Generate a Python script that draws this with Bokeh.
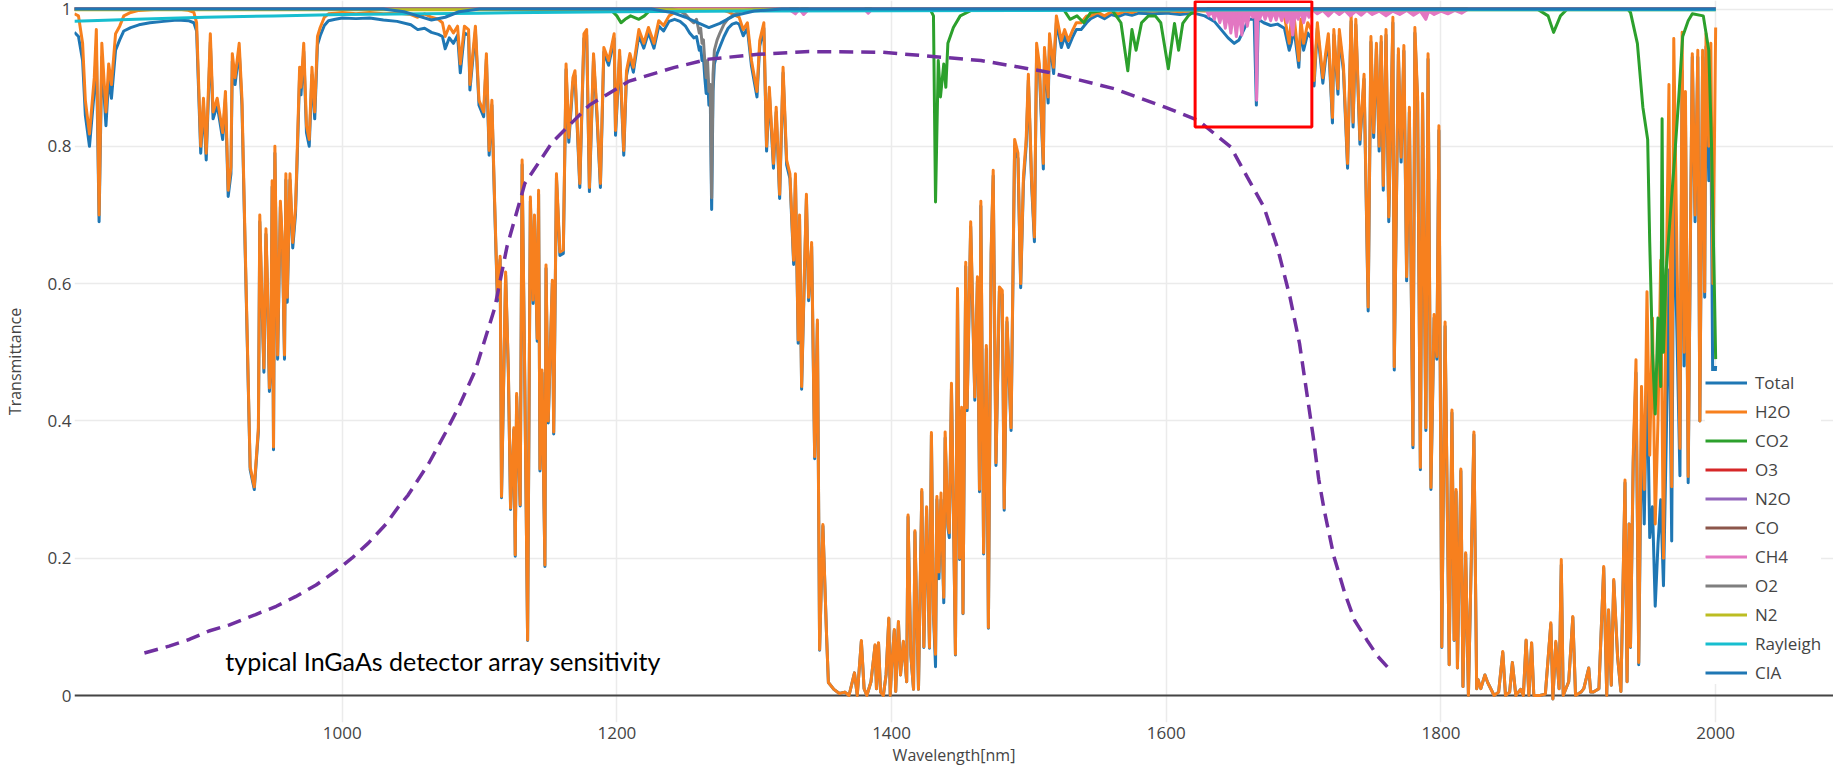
from bokeh.plotting import figure
from bokeh.models import Legend, LegendItem, FixedTicker, Span
from bokeh.core.properties import value
from bokeh.embed import file_html
from bokeh.resources import INLINE

# ---------------- data ----------------
h2o_wl = [
    805, 808, 811, 813, 816, 819.5, 821, 823, 825, 828, 830, 832, 835, 838, 841, 846, 852, 860, 870, 880, 888, 892,
    894, 897, 899, 901, 904, 906, 909, 913, 915, 917, 919, 920, 922, 925, 927, 929.5, 933, 936, 939, 940, 941, 943,
    944.5, 945.5, 947, 948, 949, 950, 951, 953, 955, 956.5, 958, 959, 960, 962, 964, 966, 967, 969, 970, 972, 974,
    976, 978, 980, 982, 984, 987, 990,
    995, 1000, 1010, 1020, 1030, 1040, 1050, 1055, 1060, 1065, 1070, 1073, 1075, 1078, 1081, 1084, 1086, 1089,
    1092, 1093, 1097, 1099.6, 1103, 1105, 1107, 1109, 1111, 1113, 1115, 1116, 1119, 1121, 1122.6, 1125, 1126, 1127,
    1129.6, 1131, 1133, 1135, 1137, 1139, 1140, 1142, 1143, 1144, 1145.5, 1147.6, 1148.4, 1150, 1153, 1154, 1156,
    1158.5, 1161, 1163, 1165, 1168, 1169.5, 1173, 1176, 1178, 1180, 1183, 1185.5, 1188, 1190.5, 1194, 1198, 1199,
    1202, 1205, 1207, 1209.5, 1212, 1216, 1219.6, 1223, 1227, 1230.5, 1234, 1238,
    1242, 1246, 1250, 1253, 1256, 1258, 1260, 1261, 1262, 1263, 1264, 1265, 1266, 1267, 1268, 1269, 1270, 1271,
    1273, 1275, 1278, 1281, 1284, 1287,
    1289, 1292, 1295, 1298, 1302, 1304, 1307, 1309, 1311, 1314, 1316, 1318.5, 1321, 1323.6, 1326, 1328.7, 1330,
    1332, 1333, 1334.5, 1336.5, 1338, 1339.6, 1341.8, 1344, 1346, 1347.6, 1350, 1352.7, 1354, 1358, 1362, 1366,
    1369, 1373, 1375, 1378, 1380, 1382, 1385, 1388, 1389, 1390.5, 1392, 1394, 1396, 1398, 1399, 1400, 1402, 1403,
    1405, 1406.5, 1408.6, 1411, 1412, 1414, 1416, 1417, 1419.6,
    1422, 1423.5, 1425.5, 1427.6, 1429, 1430.5, 1432, 1433, 1434.5, 1436, 1438, 1439, 1441, 1442, 1443.6, 1445,
    1446.5, 1448, 1449.5, 1451, 1452, 1454, 1455, 1457.6, 1460.6, 1462.5, 1464, 1465, 1467, 1469, 1470.5, 1471.5,
    1472.5, 1474, 1476, 1478.5, 1480.6, 1482, 1484, 1487, 1489.6, 1492, 1494, 1496, 1498, 1499.6, 1502, 1504,
    1505.6, 1507.6, 1510.5, 1511.3, 1514, 1515, 1518, 1520, 1523.6, 1526, 1528.7, 1532, 1534.5, 1538, 1542,
    1545, 1550, 1555, 1560, 1565, 1570, 1575, 1580, 1590, 1600, 1610, 1620, 1628, 1635, 1640, 1645, 1649.5, 1653,
    1657, 1660, 1664, 1665.6, 1667, 1671, 1676, 1681, 1686, 1689.5, 1691, 1693, 1696.5, 1698, 1700, 1703, 1705.5,
    1707.6, 1710, 1714, 1716, 1718, 1721, 1722, 1725, 1726, 1729, 1732, 1734.6, 1736, 1738, 1741, 1744, 1747, 1749,
    1751, 1753, 1755, 1756.5, 1758, 1760, 1762, 1765, 1766, 1769, 1771, 1773, 1775, 1777, 1779.6, 1781, 1783, 1785,
    1786.6, 1789, 1790.6, 1792.7, 1795, 1797, 1798.5,
    1800.6, 1803, 1806, 1808, 1809.6, 1811, 1812, 1814.5, 1816, 1818, 1820, 1824, 1826, 1827, 1829, 1832, 1834,
    1838.7, 1842, 1845, 1847, 1850, 1852, 1854.5, 1858, 1860, 1862, 1864, 1866, 1867.6, 1872, 1876, 1880, 1881.5,
    1883.6, 1886, 1887.6, 1889, 1893, 1896, 1898, 1902, 1904, 1907.6, 1909, 1911, 1915, 1918.5, 1920.7, 1922, 1924,
    1925.8, 1928.6, 1931,
    1932, 1934, 1935.5, 1937, 1938, 1940, 1942, 1944, 1946, 1948, 1950, 1952, 1954, 1956, 1958, 1960, 1962, 1964,
    1966, 1968, 1969.5, 1972, 1974, 1975.6, 1977, 1978, 1980, 1982, 1983, 1985, 1987, 1988.5, 1990.5, 1992, 1993,
    1995, 1996.5, 1998, 2000,
]

h2o = [
    0.993, 0.99, 0.95, 0.867, 0.818, 0.90, 0.97, 0.70, 0.95, 0.85, 0.92, 0.89, 0.964, 0.975, 0.99, 0.995, 0.998, 0.999, 1.0, 1.0, 0.998, 0.995,
    0.98, 0.80, 0.87, 0.79, 0.964, 0.85, 0.87, 0.82, 0.88, 0.736, 0.77, 0.935, 0.90, 0.95, 0.87, 0.644, 0.333, 0.304, 0.39, 0.70, 0.62, 0.477,
    0.68, 0.605, 0.448, 0.477, 0.75, 0.362, 0.80, 0.496, 0.72, 0.66, 0.496, 0.76, 0.58, 0.76, 0.66, 0.71, 0.775, 0.915, 0.886, 0.95, 0.83,
    0.81, 0.915, 0.85, 0.96, 0.973, 0.988, 0.993,
    0.994, 0.995, 0.993, 0.995, 0.993, 0.994, 0.992, 0.988, 0.993, 0.988, 0.985, 0.98, 0.96, 0.975, 0.965, 0.975, 0.92, 0.975,
    0.97, 0.89, 0.975, 0.867, 0.85, 0.935, 0.794, 0.867, 0.72, 0.58, 0.64, 0.29, 0.617, 0.474, 0.273, 0.39, 0.205, 0.44,
    0.278, 0.78, 0.45, 0.081, 0.726, 0.576, 0.70, 0.52, 0.736, 0.33, 0.474, 0.19, 0.627, 0.40, 0.605, 0.384, 0.76,
    0.646, 0.649, 0.92, 0.813, 0.90, 0.91, 0.746, 0.964, 0.97, 0.74, 0.935, 0.85, 0.746, 0.944, 0.925, 0.964, 0.823,
    0.94, 0.794, 0.91, 0.935, 0.915, 0.97, 0.95, 0.973, 0.95, 0.983, 0.976, 0.99,
    0.995, 0.998, 0.999, 0.998, 0.999, 0.998, 0.999, 0.999, 0.998, 0.999, 0.999, 0.998, 0.999, 0.999, 0.998, 0.999, 0.998, 0.999,
    0.999, 0.998, 0.998, 0.996, 0.993, 0.99,
    0.988, 0.97, 0.98, 0.925, 0.88, 0.954, 0.98, 0.80, 0.886, 0.775, 0.857, 0.73, 0.915, 0.78, 0.76, 0.634, 0.76,
    0.518, 0.70, 0.45, 0.615, 0.73, 0.58, 0.66, 0.348, 0.547, 0.067, 0.249, 0.086, 0.019, 0.009, 0.003, 0.005,
    0.0, 0.033, 0.0, 0.08, 0.01, 0.0, 0.02, 0.074, 0.01, 0.077, 0.005, 0.0, 0.03, 0.113, 0.0, 0.04, 0.096, 0.006,
    0.108, 0.03, 0.079, 0.02, 0.263, 0.06, 0.009, 0.24, 0.009,
    0.30, 0.071, 0.275, 0.07, 0.383, 0.12, 0.06, 0.29, 0.18, 0.295, 0.143, 0.384, 0.25, 0.237, 0.455, 0.275,
    0.06, 0.593, 0.2, 0.42, 0.12, 0.631, 0.419, 0.69, 0.435, 0.61, 0.30, 0.72, 0.208, 0.51, 0.099, 0.383,
    0.65, 0.765, 0.339, 0.595, 0.59, 0.273, 0.55, 0.39, 0.81, 0.79, 0.60, 0.755, 0.81, 0.905, 0.75, 0.668,
    0.95, 0.92, 0.775, 0.944, 0.872, 0.964, 0.915, 0.99, 0.954, 0.97, 0.954, 0.97, 0.98, 0.98, 0.99,
    0.99, 0.995, 0.99, 0.996, 0.993, 0.997, 0.995, 0.998, 0.997, 0.998, 0.996, 0.998, 0.997, 0.998, 0.997, 0.998, 0.996, 0.997,
    0.998, 0.997, 0.998, 0.997, 0.998, 0.996, 0.997, 0.995, 0.99, 0.95, 0.985, 0.99, 0.925, 0.985, 0.95, 0.98, 0.97,
    0.896, 0.98, 0.90, 0.935, 0.964, 0.842, 0.97, 0.884, 0.97, 0.918, 0.775, 0.99, 0.835, 0.985, 0.81, 0.905, 0.566, 0.96,
    0.82, 0.95, 0.80, 0.96, 0.743, 0.97, 0.697, 0.988, 0.479, 0.942, 0.784, 0.947, 0.61, 0.857, 0.365, 0.973, 0.872, 0.332,
    0.877, 0.39, 0.935, 0.303, 0.555, 0.494, 0.83,
    0.071, 0.544, 0.045, 0.416, 0.081, 0.30, 0.04, 0.33, 0.013, 0.208, 0.0, 0.384, 0.01, 0.023, 0.01, 0.03, 0.019,
    0.0, 0.005, 0.064, 0.0, 0.005, 0.048, 0.0, 0.009, 0.0, 0.081, 0.0, 0.077, 0.0, 0.0, 0.002, 0.106, -0.005,
    0.079, 0.01, 0.198, 0.0, 0.02, 0.115, 0.0, 0.005, 0.01, 0.04, 0.005, 0.005, 0.01, 0.188, 0.0, 0.125, 0.015,
    0.169, 0.057, 0.006,
    0.106, 0.314, 0.02, 0.25, 0.071, 0.35, 0.489, 0.048, 0.45, 0.30, 0.588, 0.35, 0.55, 0.25, 0.40, 0.634, 0.2, 0.60,
    0.89, 0.304, 0.957, 0.62, 0.36, 0.966, 0.50, 0.88, 0.319, 0.75, 0.935, 0.70, 0.94, 0.40, 0.94, 0.588, 0.964,
    0.80, 0.95, 0.60, 0.973,
]

total = [
    0.966, 0.96, 0.925, 0.845, 0.80, 0.88, 0.945, 0.69, 0.93, 0.83, 0.90, 0.87, 0.94, 0.955, 0.968, 0.973, 0.977, 0.98, 0.982, 0.984, 0.983, 0.98,
    0.968, 0.79, 0.86, 0.78, 0.952, 0.84, 0.86, 0.81, 0.87, 0.727, 0.76, 0.924, 0.89, 0.94, 0.86, 0.636, 0.329, 0.30, 0.385, 0.69, 0.612, 0.471,
    0.672, 0.598, 0.443, 0.471, 0.741, 0.358, 0.79, 0.49, 0.712, 0.652, 0.49, 0.751, 0.573, 0.751, 0.652, 0.701, 0.765, 0.904, 0.875, 0.938, 0.82,
    0.80, 0.904, 0.84, 0.948, 0.961, 0.976, 0.983,
    0.985, 0.987, 0.986, 0.987, 0.984, 0.982, 0.977, 0.97, 0.972, 0.966, 0.963, 0.96, 0.942, 0.958, 0.95, 0.962, 0.907, 0.965,
    0.962, 0.882, 0.967, 0.86, 0.843, 0.927, 0.787, 0.86, 0.714, 0.575, 0.635, 0.288, 0.612, 0.47, 0.271, 0.387, 0.203, 0.436,
    0.276, 0.773, 0.446, 0.08, 0.72, 0.571, 0.694, 0.516, 0.73, 0.327, 0.47, 0.188, 0.622, 0.397, 0.6, 0.381, 0.754,
    0.641, 0.644, 0.912, 0.806, 0.893, 0.903, 0.74, 0.957, 0.962, 0.734, 0.928, 0.843, 0.74, 0.937, 0.918, 0.957, 0.816,
    0.932, 0.787, 0.903, 0.928, 0.908, 0.962, 0.943, 0.966, 0.943, 0.975, 0.968, 0.982,
    0.985, 0.982, 0.975, 0.965, 0.958, 0.96, 0.94, 0.945, 0.925, 0.93, 0.90, 0.877, 0.90, 0.86, 0.87, 0.708, 0.88, 0.92,
    0.935, 0.945, 0.96, 0.972, 0.978, 0.98,
    0.978, 0.961, 0.972, 0.917, 0.872, 0.946, 0.972, 0.793, 0.878, 0.768, 0.85, 0.724, 0.907, 0.773, 0.753, 0.628, 0.753,
    0.513, 0.694, 0.446, 0.609, 0.724, 0.575, 0.654, 0.345, 0.542, 0.066, 0.247, 0.085, 0.019, 0.009, 0.003, 0.005,
    0.0, 0.033, 0.0, 0.079, 0.01, 0.0, 0.02, 0.073, 0.01, 0.076, 0.005, 0.0, 0.03, 0.112, 0.0, 0.04, 0.095, 0.006,
    0.107, 0.03, 0.078, 0.02, 0.26, 0.059, 0.009, 0.238, 0.009,
    0.297, 0.07, 0.272, 0.069, 0.379, 0.118, 0.042, 0.285, 0.17, 0.285, 0.135, 0.375, 0.245, 0.23, 0.447, 0.27,
    0.059, 0.585, 0.198, 0.415, 0.119, 0.625, 0.415, 0.683, 0.43, 0.604, 0.297, 0.713, 0.206, 0.505, 0.098, 0.379,
    0.643, 0.757, 0.335, 0.589, 0.584, 0.27, 0.544, 0.386, 0.801, 0.782, 0.594, 0.747, 0.801, 0.896, 0.742, 0.661,
    0.94, 0.91, 0.767, 0.934, 0.863, 0.954, 0.906, 0.98, 0.944, 0.96, 0.944, 0.96, 0.97, 0.97, 0.98,
    0.986, 0.991, 0.986, 0.992, 0.989, 0.993, 0.991, 0.994, 0.993, 0.994, 0.992, 0.994, 0.99, 0.982, 0.97, 0.958, 0.95, 0.955,
    0.972, 0.985, 0.985, 0.86, 0.985, 0.98, 0.976, 0.978, 0.972, 0.94, 0.95, 0.972, 0.915, 0.97, 0.94, 0.965, 0.958,
    0.888, 0.972, 0.892, 0.927, 0.956, 0.834, 0.962, 0.876, 0.962, 0.91, 0.768, 0.982, 0.828, 0.977, 0.803, 0.898, 0.56, 0.952,
    0.813, 0.942, 0.793, 0.952, 0.736, 0.962, 0.69, 0.98, 0.474, 0.934, 0.777, 0.939, 0.604, 0.85, 0.361, 0.965, 0.865, 0.329,
    0.87, 0.386, 0.927, 0.3, 0.55, 0.49, 0.823,
    0.07, 0.538, 0.045, 0.412, 0.08, 0.297, 0.04, 0.327, 0.013, 0.206, 0.0, 0.38, 0.01, 0.023, 0.01, 0.03, 0.019,
    0.0, 0.005, 0.063, 0.0, 0.005, 0.048, 0.0, 0.009, 0.0, 0.08, 0.0, 0.076, 0.0, 0.0, 0.002, 0.104, -0.005,
    0.077, 0.01, 0.19, 0.0, 0.02, 0.114, 0.0, 0.005, 0.01, 0.04, 0.005, 0.005, 0.01, 0.186, 0.0, 0.124, 0.015,
    0.167, 0.056, 0.006,
    0.105, 0.31, 0.02, 0.25, 0.07, 0.34, 0.47, 0.045, 0.40, 0.25, 0.48, 0.23, 0.275, 0.13, 0.22, 0.285, 0.16, 0.37,
    0.62, 0.225, 0.74, 0.51, 0.32, 0.91, 0.48, 0.85, 0.31, 0.74, 0.93, 0.69, 0.93, 0.40, 0.93, 0.58, 0.945,
    0.75, 0.84, 0.42, 0.48,
]

co2_wl = [805, 1195, 1200, 1203, 1206, 1210, 1216, 1220, 1225, 1428,
          1430.5, 1432, 1434, 1435.6, 1438, 1439.5, 1441, 1445, 1450, 1460,
          1525, 1530, 1535, 1540, 1545, 1560, 1567, 1572, 1575, 1578,
          1582, 1587, 1592, 1596, 1601.5, 1606, 1609, 1612, 1616, 1622,
          1870, 1878, 1882, 1887, 1892, 1936, 1938, 1943, 1947, 1950.5,
          1952, 1954, 1956, 1958, 1960, 1961, 1962, 1964, 1967, 1970,
          1973, 1976, 1980, 1983, 1991, 1995, 1997, 1999, 2000]
co2 = [1.0, 1.0, 0.99, 0.98, 0.985, 0.99, 0.985, 0.99, 1.0, 1.0,
       0.99, 0.719, 0.925, 0.872, 0.92, 0.886, 0.95, 0.973, 0.99, 1.0,
       1.0, 0.985, 0.99, 0.98, 0.995, 1.0, 0.98, 0.91, 0.97, 0.94,
       0.98, 0.99, 0.99, 0.98, 0.913, 0.979, 0.94, 0.979, 0.99, 1.0,
       1.0, 0.99, 0.966, 0.99, 1.0, 1.0, 0.995, 0.95, 0.857, 0.81,
       0.66, 0.5, 0.41, 0.55, 0.45, 0.84, 0.5, 0.62, 0.7, 0.78,
       0.867, 0.96, 0.983, 0.993, 0.99, 0.94, 0.8, 0.6, 0.49]

flat_wl = [805, 2000]
o3 = [1.0, 1.0]
n2o = [1.0, 1.0]
co = [1.0, 1.0]
n2 = [0.999, 0.999]

ch4_wl = [805, 1325, 1330, 1333, 1336, 1340, 1380, 1383, 1386, 1620,
          1629, 1631, 1633, 1635, 1637, 1639, 1641, 1643, 1645, 1647,
          1649, 1651, 1653, 1655, 1657, 1659, 1661, 1663, 1665, 1665.8,
          1666.6, 1668, 1670, 1672, 1674, 1676, 1678, 1680, 1682, 1684,
          1686, 1688, 1690, 1692, 1694, 1696, 1698, 1700, 1702, 1704,
          1706, 1710, 1714, 1718, 1722, 1726, 1730, 1734, 1738, 1742,
          1746, 1750, 1755, 1760, 1765, 1770, 1775, 1780, 1785, 1789,
          1791, 1795, 1800, 1805, 1810, 1815, 1820, 2000]
ch4 = [1.0, 1.0, 0.993, 1.0, 0.992, 1.0, 1.0, 0.994, 1.0, 1.0,
       1.0, 0.99, 0.998, 0.985, 0.997, 0.98, 0.996, 0.972, 0.995, 0.965,
       0.995, 0.96, 0.996, 0.962, 0.997, 0.975, 0.998, 0.988, 0.995, 0.867,
       0.995, 0.985, 0.998, 0.985, 0.997, 0.983, 0.997, 0.984, 0.997, 0.983,
       0.996, 0.98, 0.997, 0.962, 0.996, 0.985, 0.998, 0.98, 0.996, 0.988,
       1.0, 0.993, 0.998, 0.99, 0.998, 0.992, 0.998, 0.99, 0.997, 0.991,
       0.998, 0.992, 0.997, 0.99, 0.997, 0.992, 0.998, 0.991, 0.997, 0.985,
       0.997, 0.992, 0.997, 0.993, 0.998, 0.994, 1.0, 1.0]
ch4_top = 0.999

o2_wl = [805, 1240, 1246, 1250, 1253, 1256, 1258, 1260, 1261, 1262, 1263, 1264, 1265, 1266,
         1267, 1268, 1269, 1270, 1271, 1273, 1275, 1278, 1281, 1284, 1290, 1300, 2000]
o2 = [1.0, 1.0, 0.997, 0.992, 0.985, 0.98, 0.985, 0.965, 0.972, 0.95, 0.955, 0.925, 0.90, 0.925,
      0.88, 0.89, 0.725, 0.905, 0.94, 0.955, 0.965, 0.978, 0.986, 0.99, 0.997, 1.0, 1.0]

rayleigh_wl = [805, 850, 900, 950, 1000, 1100, 1200, 1300, 1500, 1700, 2000]
rayleigh = [0.982, 0.985, 0.988, 0.99, 0.992, 0.994, 0.996, 0.997, 0.998, 0.999, 0.999]

cia_wl = [805, 1030, 1045, 1055, 1065, 1075, 1085, 1100, 1225, 1240, 1250, 1260, 1267, 1275,
          1285, 1300, 1320, 2000]
cia = [1.0, 1.0, 0.996, 0.99, 0.984, 0.988, 0.996, 1.0, 1.0, 0.995, 0.988, 0.979, 0.973, 0.979,
       0.99, 0.997, 1.0, 1.0]

sens_wl = [856, 874, 889, 903, 918, 937, 952, 966, 981, 995, 1007, 1019, 1032, 1041, 1048, 1063,
           1075, 1085, 1097, 1111, 1120, 1133, 1153, 1180, 1209, 1242, 1267, 1303, 1340, 1393,
           1465, 1514, 1562, 1599, 1623, 1647, 1659, 1671, 1681, 1690, 1697, 1702, 1707, 1711,
           1715, 1722, 1730, 1737, 1746, 1754, 1764]
sens = [0.062, 0.072, 0.082, 0.094, 0.103, 0.118, 0.13, 0.144, 0.161, 0.181, 0.2, 0.222, 0.25,
        0.275, 0.292, 0.338, 0.382, 0.421, 0.474, 0.564, 0.654, 0.746, 0.806, 0.86, 0.895, 0.915,
        0.927, 0.934, 0.938, 0.937, 0.925, 0.908, 0.884, 0.857, 0.838, 0.799, 0.755, 0.712, 0.652,
        0.581, 0.513, 0.445, 0.377, 0.315, 0.27, 0.203, 0.149, 0.11, 0.081, 0.057, 0.035]

note_x = [914.9]
note_y = [0.0502]
note_text = ["typical InGaAs detector array sensitivity"]

box_left = [1621]
box_right = [1706]
box_bottom = [0.828]
box_top = [1.011]

x_ticks = [1000, 1200, 1400, 1600, 1800, 2000]
y_ticks = [0, 0.2, 0.4, 0.6, 0.8, 1]
y_tick_labels = ["0", "0.2", "0.4", "0.6", "0.8", "1"]

assert len(h2o_wl) == len(h2o) == len(total), (len(h2o_wl), len(h2o), len(total))
assert len(co2_wl) == len(co2) and len(ch4_wl) == len(ch4) and len(o2_wl) == len(o2)
assert len(sens_wl) == len(sens)

# ---------------- figure ----------------
p = figure(width=1833, height=768, output_backend="svg", toolbar_location=None,
           x_range=(805.1, 2085.8), y_range=(-0.0393, 1.0124),
           min_border_left=72, min_border_right=0, min_border_top=0, min_border_bottom=45)
p.outline_line_color = None
p.background_fill_color = "white"
p.border_fill_color = "white"

p.xaxis.ticker = FixedTicker(ticks=x_ticks)
p.yaxis.ticker = FixedTicker(ticks=y_ticks)
p.yaxis.major_label_overrides = {t: l for t, l in zip(y_ticks, y_tick_labels)}

for ax in (p.xaxis[0], p.yaxis[0]):
    ax.axis_line_color = None
    ax.major_tick_line_color = None
    ax.minor_tick_line_color = None
    ax.major_tick_in = 0
    ax.major_tick_out = 0
    ax.minor_tick_in = 0
    ax.minor_tick_out = 0
    ax.major_label_text_font = "Open Sans"
    ax.major_label_text_font_size = "17px"
    ax.major_label_text_color = "#444444"
    ax.axis_label_text_font = "Open Sans"
    ax.axis_label_text_font_size = "16px"
    ax.axis_label_text_color = "#444444"
    ax.axis_label_text_font_style = "normal"
p.xaxis.axis_label = "Wavelength[nm]"
p.yaxis.axis_label = "Transmittance"
p.xaxis.major_label_standoff = 4
p.xaxis.axis_label_standoff = 2
p.yaxis.major_label_standoff = 3
p.yaxis.axis_label_standoff = 19

p.xgrid.grid_line_color = "#ebebeb"
p.ygrid.grid_line_color = "#ebebeb"
p.xgrid.grid_line_width = 1.5
p.ygrid.grid_line_width = 1.5

zero = Span(location=0, dimension="width", line_color="#444444", line_width=2, level="underlay")
p.add_layout(zero)

LW = 3
series = [
    ("Total", h2o_wl, total, "#1f77b4"),
    ("H2O", h2o_wl, h2o, "#f7801e"),
    ("CO2", co2_wl, co2, "#2ca02c"),
    ("O3", flat_wl, o3, "#d62728"),
    ("N2O", flat_wl, n2o, "#9467bd"),
    ("CO", flat_wl, co, "#8c564b"),
    ("CH4", ch4_wl, ch4, "#e377c2"),
    ("O2", o2_wl, o2, "#7f7f7f"),
    ("N2", flat_wl, n2, "#bcbd22"),
    ("Rayleigh", rayleigh_wl, rayleigh, "#17becf"),
    ("CIA", cia_wl, cia, "#1f77b4"),
]
items = []
for name, xs, ys, col in series:
    if name == "CH4":
        p.varea(x=xs, y1=ys, y2=[ch4_top] * len(xs), fill_color=col, fill_alpha=1.0)
    r = p.line(xs, ys, line_color=col, line_width=LW, line_join="round")
    items.append(LegendItem(label=name, renderers=[r]))

p.line(sens_wl, sens, line_color="#7030a0", line_width=3.5, line_dash="14 8")
p.text(x=note_x, y=note_y, text=note_text, text_font=value("Lato"), text_font_size="25px",
       text_color="black", text_align="left", text_baseline="middle")
p.quad(left=box_left, right=box_right, bottom=box_bottom, top=box_top,
       fill_alpha=0, line_color="#ff0000", line_width=3)

legend = Legend(items=items, location=(1631, 38))
legend.label_text_font = "Open Sans"
legend.label_text_font_size = "17px"
legend.label_text_color = "#444444"
legend.glyph_width = 42
legend.glyph_height = 21
legend.label_height = 21
legend.spacing = 6
legend.padding = 10
legend.margin = 0
legend.label_standoff = 8
legend.border_line_color = None
legend.background_fill_color = "white"
legend.background_fill_alpha = 1
p.add_layout(legend)

open("out.html", "w").write(file_html(p, INLINE))
